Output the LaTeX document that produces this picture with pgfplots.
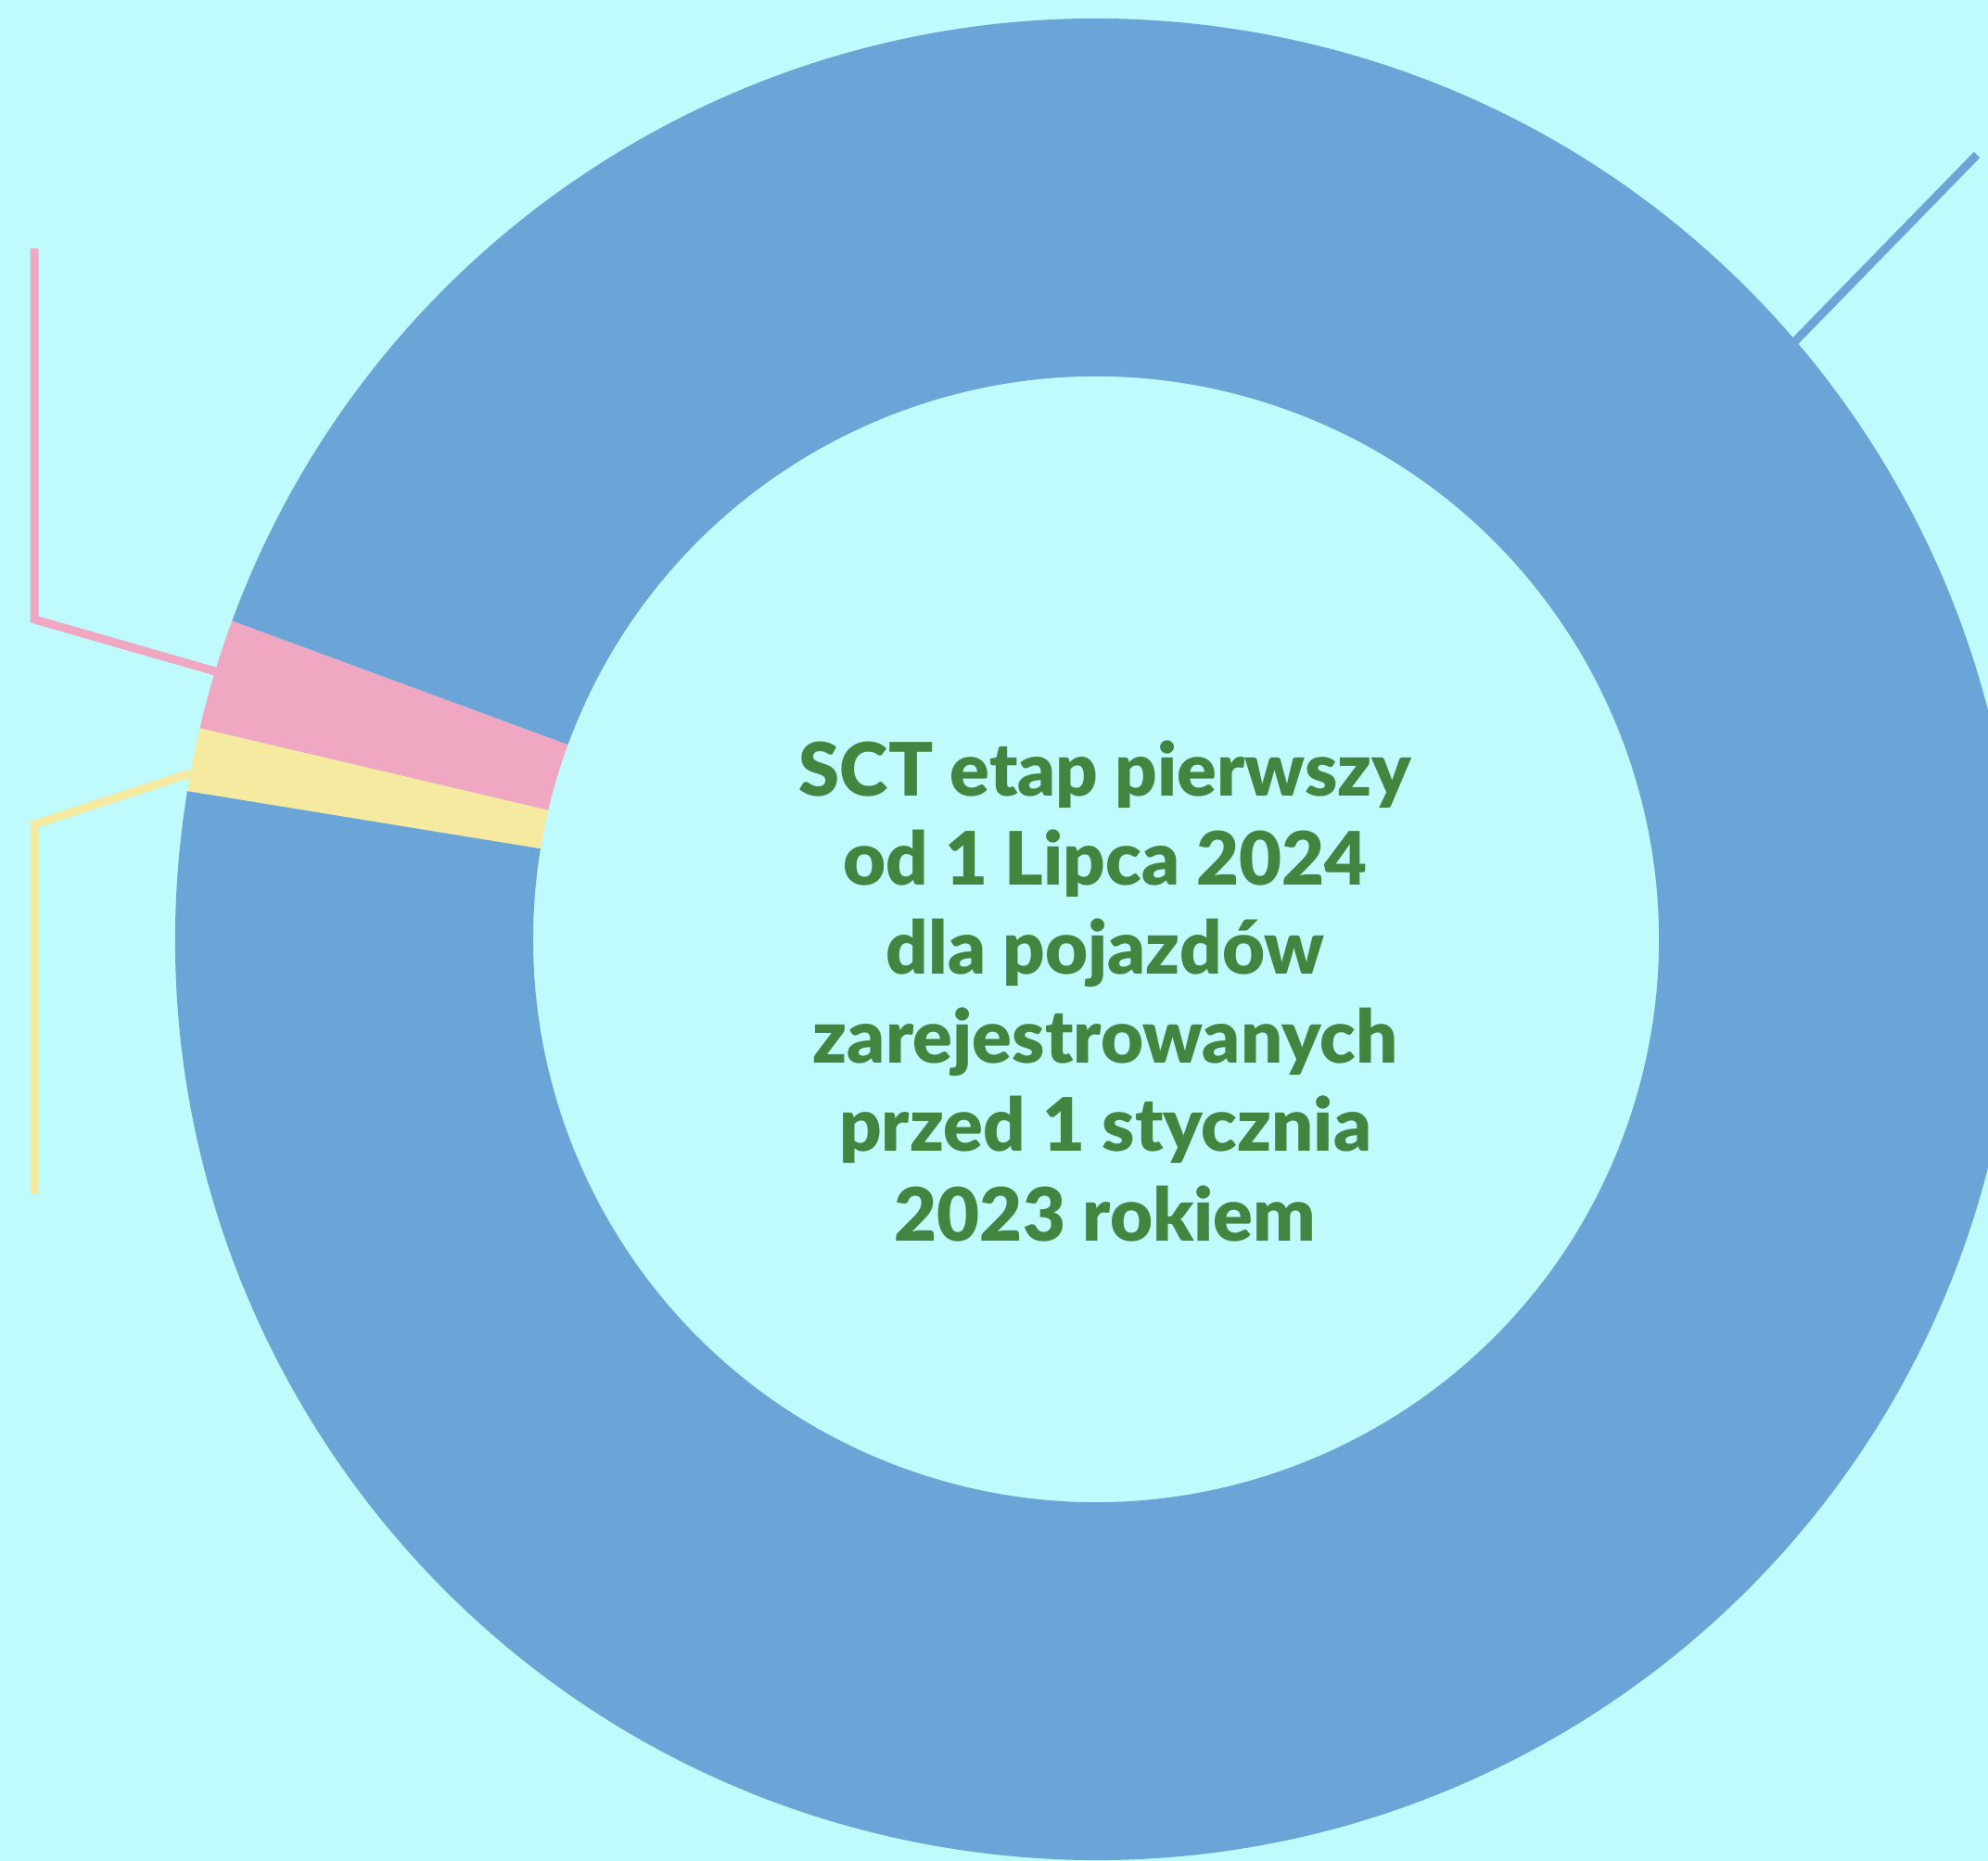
\documentclass[border=0pt]{standalone}
\usepackage{pgfplots}
\pgfplotsset{compat=1.18}
\usepackage{pgfplotstable}
\usepackage{fontspec}
\setmainfont{Lato}[BoldFont={Lato Black}]
\definecolor{bg}{HTML}{BFFBFD}
\definecolor{cblue}{HTML}{6BA5D7}
\definecolor{cpink}{HTML}{F0A7C2}
\definecolor{cyellow}{HTML}{F6E9A0}
\definecolor{cgreen}{HTML}{428540}

% shares of the ring (percent), counter-clockwise from the pink slice
\pgfplotstableread{
name value
pink 1.94
yellow 1.11
blue 96.95
}\donutdata

\pgfplotstablegetelem{0}{value}\of\donutdata \let\vA\pgfplotsretval
\pgfplotstablegetelem{1}{value}\of\donutdata \let\vB\pgfplotsretval
\pgfplotstablegetelem{2}{value}\of\donutdata \let\vC\pgfplotsretval
\pgfmathsetmacro{\aA}{159.76}
\pgfmathsetmacro{\aB}{\aA+3.6*\vA}
\pgfmathsetmacro{\aC}{\aB+3.6*\vB}
\pgfmathsetmacro{\aD}{\aC+3.6*\vC}
\def\Ro{9.93cm}
\def\Ri{6.07cm}
\def\Rw{3.86cm}

\newcommand{\ringsector}[3]{%
  \fill[#1] (axis cs:1182,994) ++(#2:\Ro) arc[start angle=#2, end angle=#3, radius=\Ro]
     -- ++({#3+180}:\Rw) arc[start angle=#3, end angle=#2, radius=\Ri] -- cycle;}

\begin{document}
\begin{tikzpicture}
\begin{axis}[at={(0,0)}, anchor=south west, scale only axis,
  width=21.44cm, height=20.07cm,
  xmin=0, xmax=2144, ymin=0, ymax=2007,
  hide axis, clip=true]
\fill[bg] (axis cs:0,0) rectangle (axis cs:2144,2007);
\ringsector{cpink}{\aA}{\aB}
\ringsector{cyellow}{\aB}{\aC}
\ringsector{cblue}{\aC}{\aD}
\addplot[cpink, line width=0.09cm, line join=miter] coordinates {(37,1739) (37,1339) (232,1283)};
\addplot[cyellow, line width=0.09cm, line join=miter] coordinates {(37,719) (37,1118) (205,1173)};
\addplot[cblue, line width=0.09cm] coordinates {(1935,1638) (2132,1840)};
\begin{scope}[every node/.style={anchor=base, text=cgreen, font=\fontsize{22.6pt}{27.3pt}\selectfont\bfseries, inner sep=0pt}]
\node at (axis cs:1192,1148) {SCT etap pierwszy};
\node at (axis cs:1192,1052) {od 1 Lipca 2024};
\node at (axis cs:1192,956) {dla pojazdów};
\node at (axis cs:1192,860) {zarejestrowanych};
\node at (axis cs:1192,765) {przed 1 stycznia};
\node at (axis cs:1192,668) {2023 rokiem};
\end{scope}
\end{axis}
\pgfresetboundingbox
\useasboundingbox (0,0) rectangle (21.44cm,20.07cm);
\end{tikzpicture}
\end{document}
